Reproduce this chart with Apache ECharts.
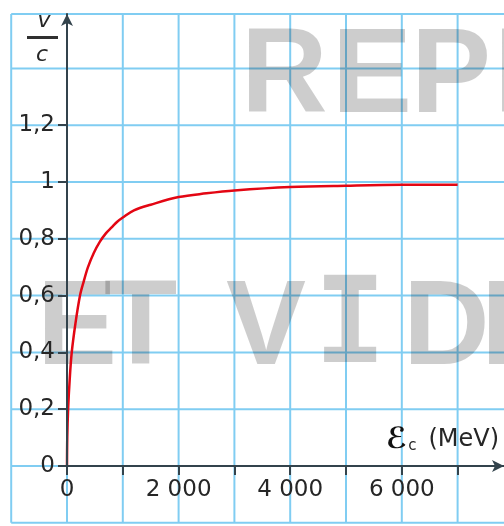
<!DOCTYPE html>
<html>
<head>
<meta charset="utf-8">
<script src="https://cdn.jsdelivr.net/npm/echarts@6/dist/echarts.min.js"></script>
<style>
  html, body { margin: 0; padding: 0; background: #fff; overflow: hidden; }
  #chart { width: 504px; height: 526px; }
</style>
</head>
<body>
<div id="chart"></div>
<script>
// kinetic energy (MeV) and v/c
const energies = [0, 5, 20, 50, 85, 150, 233, 300, 376, 480, 590, 700, 800, 900, 1000, 1200, 1500, 2000, 2500, 3000, 4000, 5000, 6000, 7000]
const speeds = [0, 0.10, 0.20, 0.31, 0.40, 0.50, 0.60, 0.65, 0.70, 0.75, 0.79, 0.82, 0.84, 0.86, 0.875, 0.90, 0.92, 0.947, 0.96, 0.97, 0.982, 0.987, 0.99, 0.99]
const xTicks = [0, 1000, 2000, 3000, 4000, 5000, 6000, 7000]
const xLabels = [0, 2000, 4000, 6000]
const yTicks = [0, 0.2, 0.4, 0.6, 0.8, 1, 1.2]
// squared paper behind the graph, in axis units
const paperX = [-1000, 0, 1000, 2000, 3000, 4000, 5000, 6000, 7000]
const paperY = [-0.2, 0, 0.2, 0.4, 0.6, 0.8, 1, 1.2, 1.4, 1.5915]

const gridBlue = '#80cdf2'
const axisDark = '#33434c'
const textDark = '#262626'
const labelFont = { fontFamily: 'DejaVu Sans', fontSize: 23, color: textDark }

// watermark letters (decoration only)
const watermark = [
  { t: 'R', x: 241, y: 79 }, { t: 'E', x: 332, y: 79 }, { t: 'P', x: 411, y: 79 }, { t: 'R', x: 494, y: 79 },
  { t: 'E', x: 37, y: 331 }, { t: 'T', x: 104, y: 331 }, { t: 'V', x: 226, y: 331 },
  { t: 'I', x: 314, y: 331, mono: true }, { t: 'D', x: 403, y: 331 }, { t: 'É', x: 481, y: 331 }
]

const chart = echarts.init(document.getElementById('chart'))

const staticGraphics = [
  ...watermark.map(w => ({
    type: 'text', x: w.x, y: w.y, z: 1,
    style: {
      text: w.t,
      fontFamily: w.mono ? 'DejaVu Sans Mono' : 'Liberation Sans',
      fontWeight: 'bold', fontSize: 120,
      align: 'left', verticalAlign: 'middle',
      fill: 'rgba(0,0,0,0.196)'
    }
  })),
  { type: 'text', x: 44, y: 21, z: 5, style: { text: 'v', fontFamily: 'DejaVu Sans', fontStyle: 'italic', fontSize: 22, align: 'center', verticalAlign: 'middle', fill: textDark } },
  { type: 'rect', left: 27, top: 36, z: 5, shape: { width: 31, height: 3 }, style: { fill: '#303030' } },
  { type: 'text', x: 42, y: 55, z: 5, style: { text: 'c', fontFamily: 'DejaVu Sans', fontStyle: 'italic', fontSize: 22, align: 'center', verticalAlign: 'middle', fill: textDark } },
  {
    type: 'text', x: 386, y: 440, z: 5,
    style: {
      text: '{e|ℰ}{s|c}{m|(MeV)}',
      fontFamily: 'DejaVu Sans', fontSize: 23, fill: textDark,
      verticalAlign: 'middle',
      rich: {
        e: { fontFamily: 'DejaVu Sans', fontWeight: 'bold', fontSize: 29, fill: '#111' },
        s: { fontFamily: 'DejaVu Sans', fontSize: 15, fill: textDark, padding: [13, 12, 0, 1] },
        m: { fontFamily: 'DejaVu Sans', fontSize: 24, fill: textDark }
      }
    }
  }
]

const option = {
  animation: false,
  grid: { left: 67, right: 0, top: 14, bottom: 60, containLabel: false },
  xAxis: {
    type: 'value', min: 0, max: 7831.5, interval: 1000,
    axisLine: { show: true, lineStyle: { color: axisDark, width: 2 }, symbol: ['none', 'arrow'], symbolSize: [9, 12] },
    axisTick: { show: true, inside: false, length: 9, customValues: xTicks, lineStyle: { color: axisDark, width: 2 } },
    axisLabel: {
      show: true, margin: 13, customValues: xLabels, ...labelFont,
      formatter: v => v === 0 ? '0' : (v / 1000) + ' 000'
    },
    splitLine: { show: false },
    z: 3
  },
  yAxis: {
    type: 'value', min: 0, max: 1.5915, interval: 0.2,
    axisLine: { show: true, lineStyle: { color: axisDark, width: 2 }, symbol: ['none', 'arrow'], symbolSize: [9, 12] },
    axisTick: { show: true, inside: false, length: 9, customValues: yTicks, lineStyle: { color: axisDark, width: 2 } },
    axisLabel: {
      show: true, margin: 12, customValues: yTicks, ...labelFont,
      formatter: v => String(v).replace('.', ',')
    },
    splitLine: { show: false },
    z: 3
  },
  graphic: staticGraphics,
  series: [
    {
      type: 'line',
      data: energies.map((e, i) => [e, speeds[i]]),
      smooth: 0.35,
      showSymbol: false,
      lineStyle: { color: '#e30613', width: 2.5 },
      z: 2
    }
  ]
}

chart.setOption(option)

// squared paper: positions come from the chart's own axes
const px = v => chart.convertToPixel({ xAxisIndex: 0 }, v)
const py = v => chart.convertToPixel({ yAxisIndex: 0 }, v)
const xLeft = px(paperX[0]), yTop = py(paperY[paperY.length - 1]), yBottom = py(paperY[0])
const paper = [
  ...paperX.map(v => ({ type: 'line', z: 0, shape: { x1: px(v), y1: yTop, x2: px(v), y2: yBottom }, style: { stroke: gridBlue, lineWidth: 2 } })),
  ...paperY.map(v => ({ type: 'line', z: 0, shape: { x1: xLeft, y1: py(v), x2: 504, y2: py(v) }, style: { stroke: gridBlue, lineWidth: 2 } }))
]
chart.setOption({ graphic: staticGraphics.concat(paper) })
</script>
</body>
</html>
